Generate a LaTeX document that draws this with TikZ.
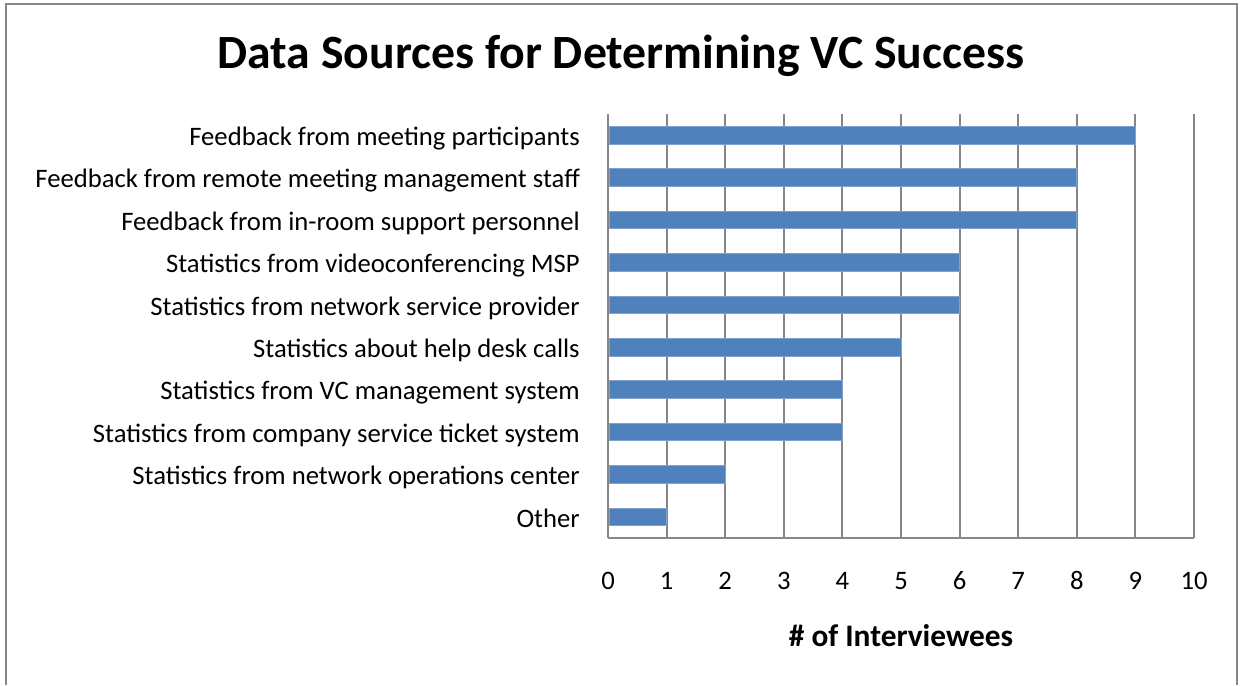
\documentclass[tikz,border=0pt]{standalone}
\usepackage{fontspec}
\setmainfont{Carlito}
\usepackage{tikz}

\definecolor{barblue}{HTML}{4F81BD}
\definecolor{baredge}{HTML}{7EA1CE}
\definecolor{gridgray}{HTML}{868686}

\tikzset{
  bar/.style = {fill=barblue, draw=baredge, line width=0.6pt},
  grid line/.style = {draw=gridgray, line width=1.5pt},
  cat label/.style = {anchor=base east, font=\fontsize{20}{22}\selectfont, inner sep=0pt},
  tick label/.style = {anchor=base, font=\fontsize{20}{22}\selectfont, inner sep=0pt},
}

\begin{document}
\begin{tikzpicture}[x=0.75pt, y=-0.75pt]
        \useasboundingbox (0,0) rectangle (1241,685);
        % frame
        \draw[draw=gridgray, line width=1.2pt] (6,685) -- (6,4) -- (1237,4) -- (1237,685);

        \node[anchor=base, inner sep=0pt, font=\bfseries\fontsize{35.8}{40}\selectfont] (title) at (621,68.5) {Data Sources for Determining VC Success};

        % grid and axes
        \foreach \k in {0,...,10} {
            \coordinate (top\k) at (608+58.6*\k,114);
            \coordinate (bot\k) at (608+58.6*\k,538);
            \draw[grid line] (top\k) -- (bot\k);
            \node[tick label] (tick\k) at (608+58.6*\k,589.5) {\k};
        }
        \draw[grid line] (bot0) -- (bot10);

        % bars
        \foreach \val/\txt [count=\i from 0] in {
            9/Feedback from meeting participants,
            8/Feedback from remote meeting management staff,
            8/Feedback from in-room support personnel,
            6/Statistics from videoconferencing MSP,
            6/Statistics from network service provider,
            5/Statistics about help desk calls,
            4/Statistics from VC management system,
            4/Statistics from company service ticket system,
            2/Statistics from network operations center,
            1/Other} {
            \node[cat label] (cat\i) at (580,114+42.4*\i+31.5) {\txt};
            \draw[bar] (609,114+42.4*\i+12.4) rectangle (608+58.6*\val,114+42.4*\i+30);
        }

        \node[anchor=base, inner sep=0pt, font=\bfseries\fontsize{23.5}{26}\selectfont] (axistitle) at (901,646) {\# of Interviewees};
    \end{tikzpicture}
\end{document}
